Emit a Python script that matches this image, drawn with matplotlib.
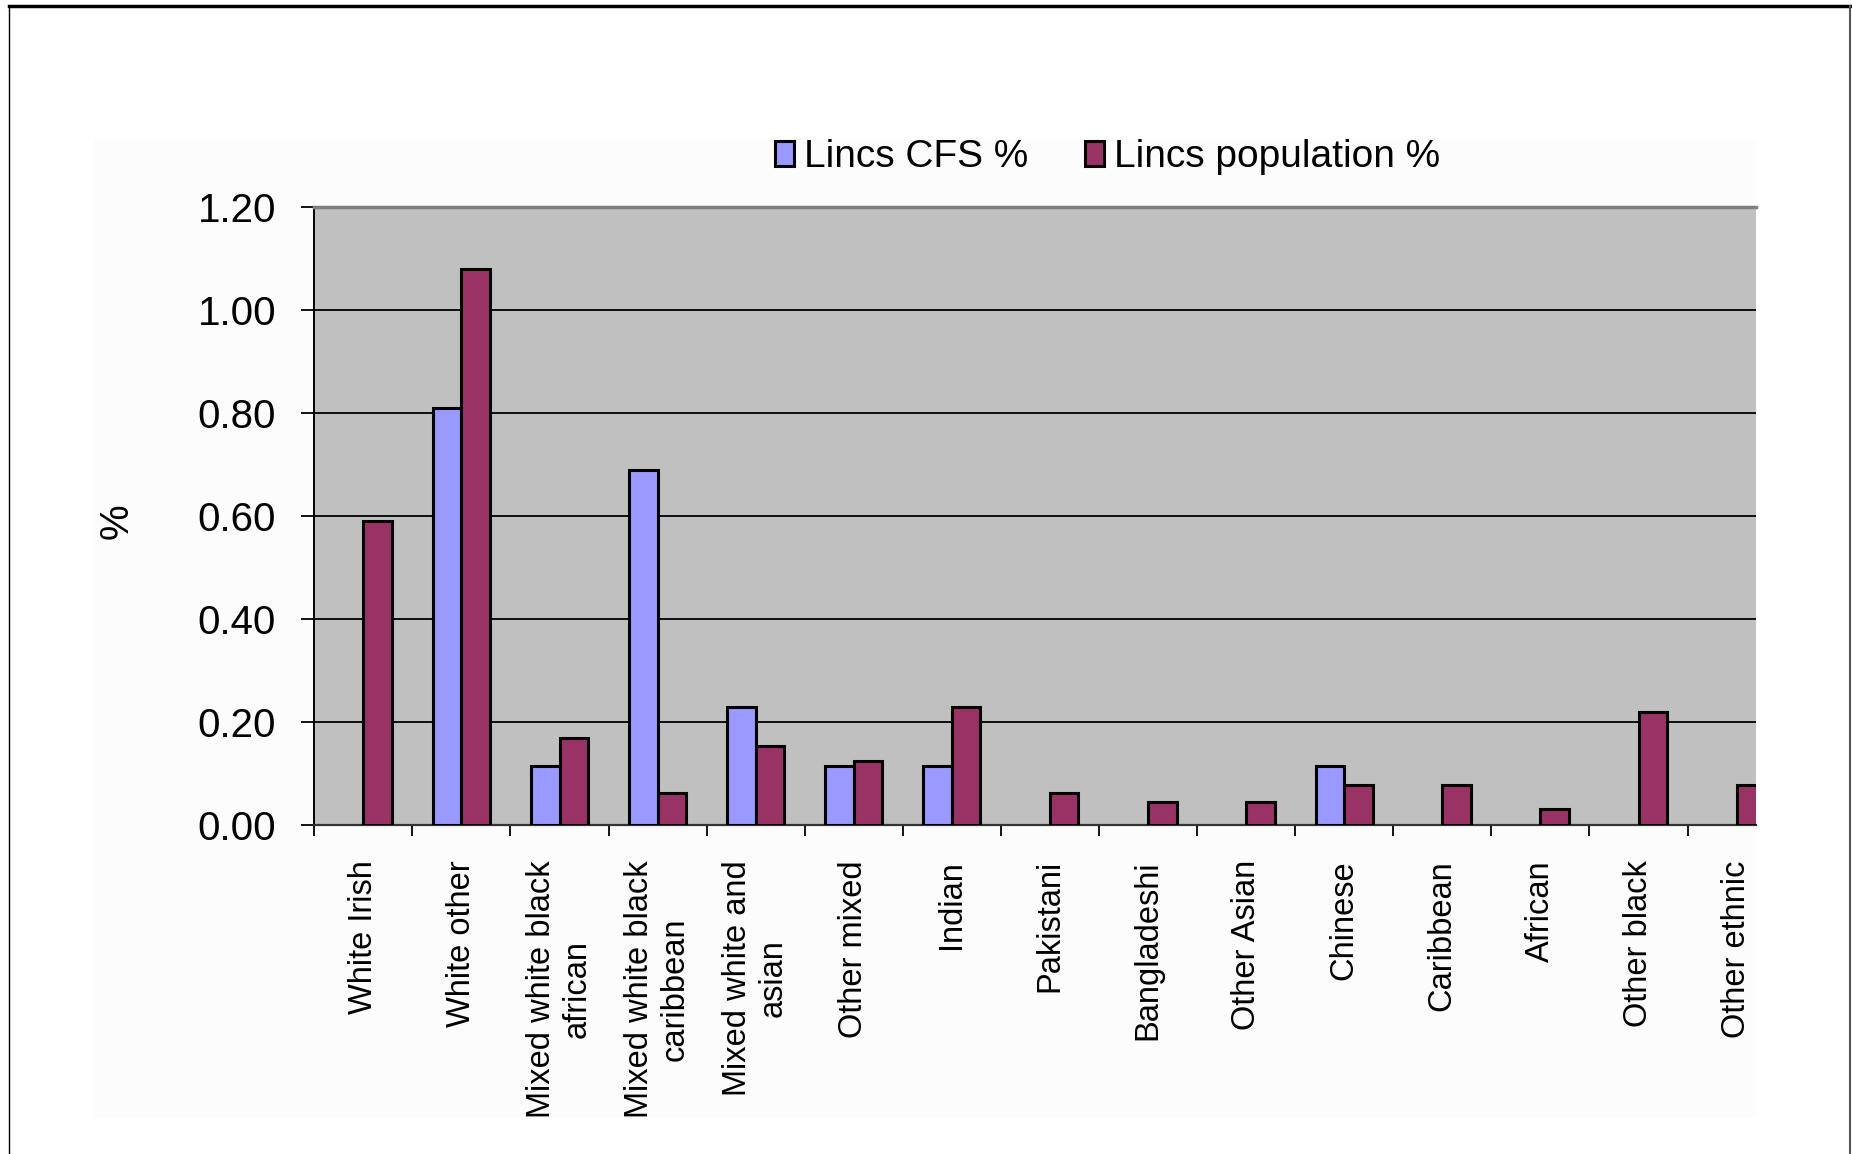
import numpy as np
import matplotlib
matplotlib.use("Agg")
import matplotlib.pyplot as plt
from matplotlib.lines import Line2D
from matplotlib.patches import Rectangle

# Data
categories = ["White Irish", "White other", "Mixed white black\nafrican",
              "Mixed white black\ncaribbean", "Mixed white and\nasian",
              "Other mixed", "Indian", "Pakistani", "Bangladeshi",
              "Other Asian", "Chinese", "Caribbean", "African",
              "Other black", "Other ethnic"]
cfs_pct = [0.0, 0.81, 0.115, 0.69, 0.23, 0.115, 0.115, 0.0, 0.0,
           0.0, 0.115, 0.0, 0.0, 0.0, 0.0]
pop_pct = [0.59, 1.08, 0.17, 0.062, 0.155, 0.125, 0.23, 0.062, 0.046,
           0.046, 0.078, 0.078, 0.032, 0.22, 0.078]
series_names = ["Lincs CFS %", "Lincs population %"]
y_ticks = [0.0, 0.2, 0.4, 0.6, 0.8, 1.0, 1.2]

BLUE = "#9999FF"
PLUM = "#993366"
GRID_BG = "#C0C0C0"

plt.rcParams["font.family"] = ["Liberation Sans", "DejaVu Sans"]

fig = plt.figure(figsize=(18.52, 11.54), dpi=100)

# faint chart-area panel and outer frame lines
fig.patches.append(Rectangle((0.051, 0.0315), 0.897, 0.848, transform=fig.transFigure,
                             facecolor="#FCFCFC", edgecolor="none", zorder=-5))
fig.add_artist(Line2D([0.0049, 0.9992], [0.9945, 0.9945], color="black", lw=2.5))
fig.add_artist(Line2D([0.0049, 0.0049], [0.0, 0.9945], color="black", lw=1.0))
fig.add_artist(Line2D([0.9990, 0.9990], [0.0, 0.9945], color="#555555", lw=1.5))

ax = fig.add_axes([0.1697, 0.2847, 0.7786, 0.5362])
ax.set_facecolor(GRID_BG)

x = np.arange(len(categories))
cfs = np.array(cfs_pct)
pop = np.array(pop_pct)
w = 0.29

# Excel leaves out empty bars, so only draw the non-zero ones
show = cfs > 0
ax.bar(x[show] - w / 2, cfs[show], width=w, color=BLUE, edgecolor="black",
       linewidth=2.2, label=series_names[0], zorder=3)
ax.bar(x + w / 2, pop, width=w, color=PLUM, edgecolor="black",
       linewidth=2.2, label=series_names[1], zorder=3)

ax.set_ylim(0, 1.2)
ax.set_xlim(-0.5, 14.2)
ax.set_yticks(y_ticks)
ax.set_yticklabels(["%.2f" % v for v in y_ticks], fontsize=29)
ax.yaxis.grid(True, color="black", linewidth=1.3, zorder=1)
ax.set_axisbelow(True)

ax.set_xticks(x)
ax.set_xticklabels(categories, rotation=90, fontsize=23.5, va="top",
                   ha="center", multialignment="center")
ax.set_xticks(np.arange(-0.5, 14.0, 1.0), minor=True)
ax.tick_params(axis="x", which="major", length=0, pad=25)
ax.tick_params(axis="x", which="minor", length=8, width=1.3, direction="out")
ax.tick_params(axis="y", length=9.5, width=1.3, direction="out", pad=18)

ax.set_ylabel("%", fontsize=29)
ax.yaxis.set_label_coords(-0.124, 0.492)

ax.spines["right"].set_visible(False)
ax.spines["top"].set_color("#808080")
ax.spines["top"].set_linewidth(2.5)
ax.spines["left"].set_color("black")
ax.spines["left"].set_linewidth(1.4)
ax.spines["bottom"].set_color("#333333")
ax.spines["bottom"].set_linewidth(1.6)

fig.legend(loc="center", bbox_to_anchor=(0.598, 0.864), ncol=2, frameon=False,
           fontsize=28, handlelength=0.5, handleheight=0.6, handletextpad=0.25,
           columnspacing=1.45)

fig.savefig("out.png", dpi=100)
